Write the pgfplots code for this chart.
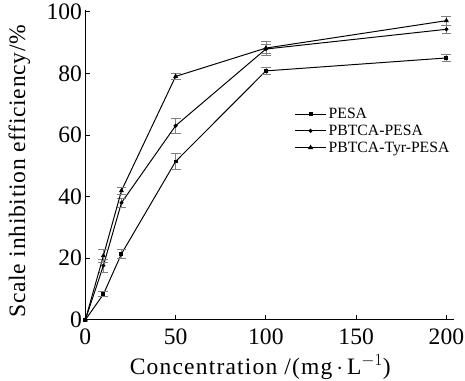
\documentclass[border=0pt]{standalone}
\usepackage{pgfplots}
\pgfplotsset{compat=1.18}
\usepackage{fontspec}
\setmainfont{Liberation Serif}
\begin{document}
\begin{tikzpicture}
\begin{axis}[
  at={(0pt,0pt)}, anchor=origin,
  scale only axis,
  width=375.4pt, height=315.6pt,
  xmin=0, xmax=204, ymin=0, ymax=100.5,
  axis x line=bottom, axis y line=left,
  axis line style={-, line width=1pt},
  xtick={0,50,100,150,200}, ytick={0,20,40,60,80,100},
  tick align=inside,
  major tick length=5pt,
  tick style={line width=0.8pt, black},
  ticklabel style={font=\fontsize{24}{26}\selectfont},
  xticklabel style={yshift=-6pt},
  /pgf/number format/assume math mode=true,
  xlabel={Concentration /(mg\,$\cdot$\,L$^{-1}$)},
  ylabel={Scale inhibition efficiency/\%},
  every axis x label/.style={at={(axis description cs:0.475,-0.152)}, anchor=center, font=\fontsize{24}{26}\selectfont\addfontfeatures{LetterSpace=5}},
  every axis y label/.style={at={(axis description cs:-0.179,0.48)}, anchor=center, rotate=90, font=\fontsize{24}{26}\selectfont\addfontfeatures{LetterSpace=3}},
  legend style={draw=none, fill=none, inner xsep=0pt, font=\fontsize{16}{17}\selectfont, at={(rel axis cs:0.567,0.697)}, anchor=north west, row sep=1pt, /tikz/every even column/.append style={column sep=2pt}},
  legend cell align=left,
  legend image code/.code={\draw[mark repeat=2,mark phase=2] plot coordinates {(0pt,0pt) (16pt,0pt) (32pt,0pt)};},
  error bars/error bar style={gray, line width=0.6pt},
  error bars/error mark options={rotate=90, mark size=5pt, gray, line width=0.6pt},
]
\addplot[black, line width=1pt, mark=square*, mark size=1.5pt, mark options={fill=black}, error bars/.cd, y dir=both, y explicit]
 coordinates {(0,0) +- (0,0) (10,8.3) +- (0,0.8) (20,21.4) +- (0,1.5) (50,51.4) +- (0,2.5) (100,80.8) +- (0,1.2) (200,85.0) +- (0,1.2)};
\addlegendentry{PESA}
\addplot[black, line width=1pt, mark=*, mark size=1.5pt, mark options={fill=black}, error bars/.cd, y dir=both, y explicit]
 coordinates {(0,0) +- (0,0) (10,17.6) +- (0,2.2) (20,38.0) +- (0,1.5) (50,63.0) +- (0,2.3) (100,87.9) +- (0,1.5) (200,94.3) +- (0,1.2)};
\addlegendentry{PBTCA-PESA}
\addplot[black, line width=1pt, mark=triangle*, mark size=2pt, mark options={fill=black}, error bars/.cd, y dir=both, y explicit]
 coordinates {(0,0) +- (0,0) (10,20.8) +- (0,2.0) (20,41.9) +- (0,1.2) (50,79.0) +- (0,1.0) (100,88.2) +- (0,2.2) (200,97.1) +- (0,1.5)};
\addlegendentry{PBTCA-Tyr-PESA}
\end{axis}
\pgfresetboundingbox
\useasboundingbox (-87pt,-62pt) rectangle (387pt,326pt);
\end{tikzpicture}
\end{document}
